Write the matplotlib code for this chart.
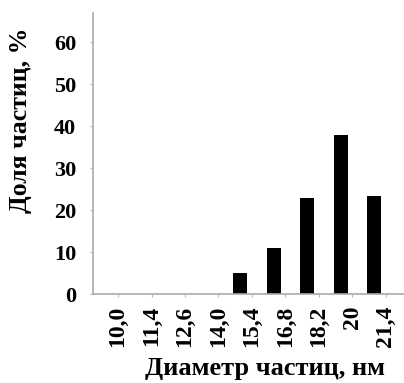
import numpy as np
import matplotlib
matplotlib.use('Agg')
import matplotlib.pyplot as plt

plt.rcParams['font.family'] = ['Liberation Serif', 'DejaVu Serif']
plt.rcParams['font.weight'] = 'bold'

diam_labels = ['10,0', '11,4', '12,6', '14,0', '15,4', '16,8', '18,2', '20', '21,4']
bar_bins = [3, 4, 5, 6, 7]
share = [5, 11, 23, 38, 23.3]

fig = plt.figure(figsize=(4.04, 3.83), dpi=100)
ax = fig.add_axes([0.230, 0.232, 0.770, 0.734])

x = np.array(bar_bins) + 0.65
ax.bar(x, share, width=0.42, color='black')

ax.set_xticks(np.arange(len(diam_labels)))
ax.set_xticklabels(diam_labels, rotation=90, fontsize=17)
ax.set_xlim(-0.75, 8.54)
ax.set_ylim(0, 67)
ax.set_yticks([0, 10, 20, 30, 40, 50, 60])
ax.tick_params(axis='y', labelsize=16, length=2, color='#bbbbbb', pad=10)
ax.tick_params(axis='x', length=2, color='#bbbbbb', pad=6)

for s in ['top', 'right']:
    ax.spines[s].set_visible(False)
for s in ['left', 'bottom']:
    ax.spines[s].set_color('#aaaaaa')
    ax.spines[s].set_linewidth(1.2)

ax.set_ylabel('Доля частиц, %', fontsize=18.5, fontweight='bold')
ax.set_xlabel('Диаметр частиц, нм', fontsize=19, fontweight='bold')
ax.yaxis.set_label_coords(-0.196, 0.62)
ax.xaxis.set_label_coords(0.553, -0.222)

fig.savefig('out.png', dpi=100)
